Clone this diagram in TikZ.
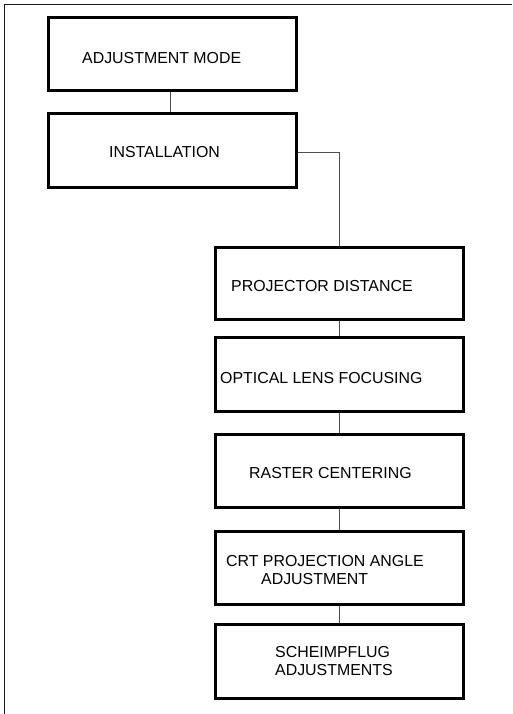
\documentclass[tikz,border=0pt]{standalone}
\usepackage{fontspec}
\setmainfont{Liberation Sans}
\begin{document}
\begin{tikzpicture}[x=1pt,y=-1pt,
  box/.style={draw=black,line width=3pt,rectangle,inner sep=0pt,minimum width=248pt},
  lbl/.style={inner sep=0pt,anchor=base west,font=\fontsize{15.9pt}{18pt}\selectfont},
  link/.style={draw=black!70,line width=1pt},
  frameline/.style={draw=black!90,line width=1.5pt}]
\useasboundingbox (0,0) rectangle (512,714);
\coordinate (fa) at (4.7,714);
\coordinate (fb) at (4.7,4.7);
\coordinate (fc) at (512,4.7);
\draw[frameline] (fa) -- (fb) -- (fc);
% boxes
\node[box,minimum height=73pt] (b1) at (172.5,54) {};
\node[box,minimum height=74pt] (b2) at (172.5,150.5) {};
\node[box,minimum height=72pt] (b3) at (339,283.5) {};
\node[box,minimum height=74pt] (b4) at (339,374.5) {};
\node[box,minimum height=73pt] (b5) at (339,471) {};
\node[box,minimum height=73pt] (b6) at (339,568) {};
\node[box,minimum height=74pt] (b7) at (339,661.5) {};
% labels
\node[lbl] (t1) at (82,63.3) {ADJUSTMENT MODE};
\node[lbl] (t2) at (109,158) {INSTALLATION};
\node[lbl] (t3) at (231,291) {PROJECTOR DISTANCE};
\node[lbl] (t4) at (220,383) {OPTICAL LENS FOCUSING};
\node[lbl] (t5) at (249,478) {RASTER CENTERING};
\node[lbl] (t6a) at (226,566) {CRT PROJECTION ANGLE};
\node[lbl] (t6b) at (261,584) {ADJUSTMENT};
\node[lbl] (t7a) at (275,657) {SCHEIMPFLUG};
\node[lbl] (t7b) at (275,675) {ADJUSTMENTS};
% connectors
\draw[link] ([xshift=-2.5pt]b1.south) -- ([xshift=-2.5pt]b2.north);
\draw[link] ([yshift=-2.5pt]b2.east) -| (b3.north);
\draw[link] (b3.south) -- (b4.north);
\draw[link] (b4.south) -- (b5.north);
\draw[link] (b5.south) -- (b6.north);
\draw[link] (b6.south) -- (b7.north);
\end{tikzpicture}
\end{document}
